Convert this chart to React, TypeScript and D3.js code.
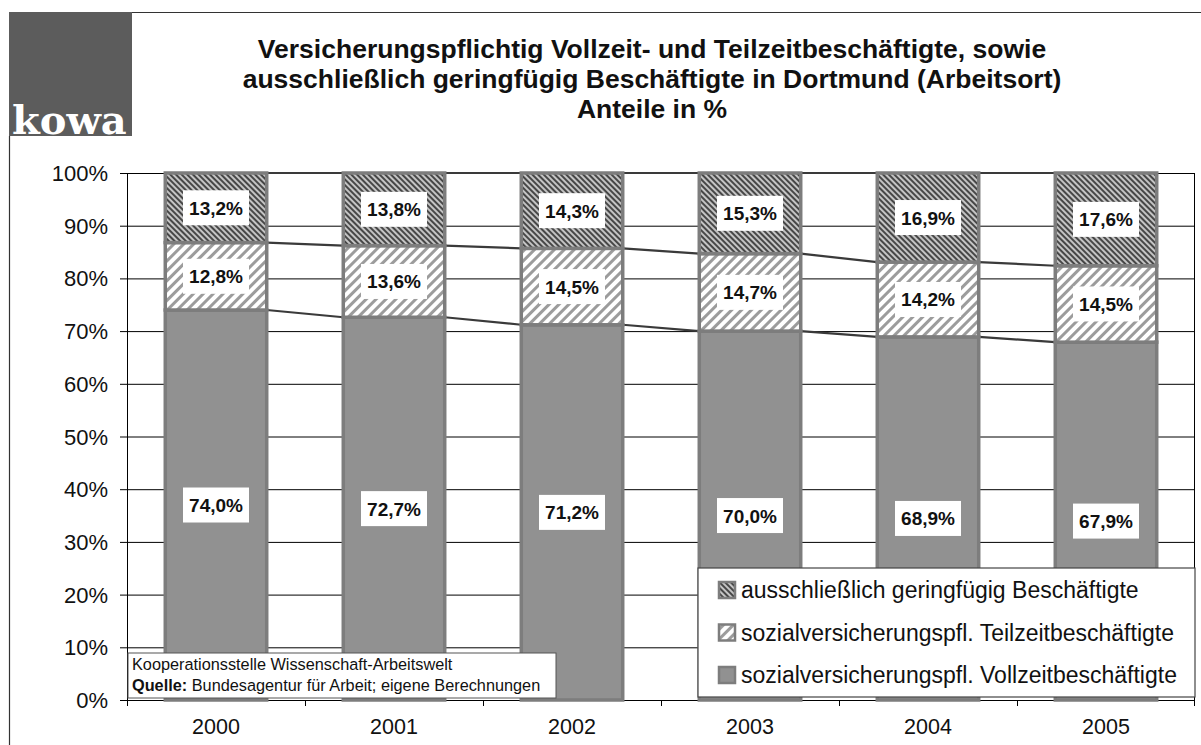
import * as d3 from 'd3';

const years = ['2000', '2001', '2002', '2003', '2004', '2005'];
const vollzeit = [74.0, 72.7, 71.2, 70.0, 68.9, 67.9];
const teilzeit = [12.8, 13.6, 14.5, 14.7, 14.2, 14.5];
const geringfuegig = [13.2, 13.8, 14.3, 15.3, 16.9, 17.6];
const yTicks = [0, 10, 20, 30, 40, 50, 60, 70, 80, 90, 100];
const seriesNames = [
  'ausschließlich geringfügig Beschäftigte',
  'sozialversicherungspfl. Teilzeitbeschäftigte',
  'sozialversicherungspfl. Vollzeitbeschäftigte',
];
const titleLines = [
  'Versicherungspflichtig Vollzeit- und Teilzeitbeschäftigte, sowie',
  'ausschließlich geringfügig Beschäftigte in Dortmund (Arbeitsort)',
  'Anteile in %',
];

const W = 1201;
const H = 745;
const plot = { left: 127, right: 1195, top: 173, bottom: 700 };
const font = '"Liberation Sans", Arial, sans-serif';
const fmt = (v: number) => v.toFixed(1).replace('.', ',') + '%';

export default function App() {
  const x = d3.scaleBand().domain(years).range([plot.left, plot.right]).paddingInner(0.43).paddingOuter(0.215);
  const band = d3.scaleBand().domain(years).range([plot.left, plot.right]);
  const y = d3.scaleLinear().domain([0, 100]).range([plot.bottom, plot.top]);
  const bw = x.bandwidth();

  // stack as 100% shares
  const rows = years.map((yr, i) => {
    const tot = vollzeit[i] + teilzeit[i] + geringfuegig[i];
    return { year: yr, v: (vollzeit[i] / tot) * 100, t: (teilzeit[i] / tot) * 100, g: (geringfuegig[i] / tot) * 100 };
  });
  const stack = d3.stack<any>().keys(['v', 't', 'g'])(rows);
  const labels = [vollzeit, teilzeit, geringfuegig];
  const fills = ['#919191', 'url(#hatchLight)', 'url(#hatchDark)'];

  return (
    <div style={{ position: 'absolute', left: 0, top: 0 }}>
      <svg width={W} height={H} style={{ display: 'block', background: '#fff' }}>
        <defs>
          <pattern id="hatchDark" patternUnits="userSpaceOnUse" width="4" height="4" patternTransform="rotate(-45)">
            <rect width="4" height="4" fill="#c4c4c4" />
            <rect width="2" height="4" fill="#474747" />
          </pattern>
          <pattern id="hatchLight" patternUnits="userSpaceOnUse" width="7" height="7" patternTransform="rotate(45)">
            <rect width="7" height="7" fill="#ffffff" />
            <rect width="3" height="7" fill="#9c9c9c" />
          </pattern>
        </defs>

        {/* logo and frame */}
        <rect x={9} y={12} width={123} height={124} fill="#5c5c5c" />
        <text x={12} y={134} fill="#fff" fontFamily='"DejaVu Serif", "Liberation Serif", serif' fontWeight="bold" fontSize={40}>
          kowa
        </text>
        <line x1={132} x2={W} y1={12.5} y2={12.5} stroke="#333" strokeWidth={1.2} />
        <line x1={9.5} x2={9.5} y1={136} y2={H} stroke="#333" strokeWidth={1.2} />

        {/* title */}
        {titleLines.map((t, i) => (
          <text key={t} x={652} y={58 + i * 30} textAnchor="middle" fontFamily={font} fontWeight="bold" fontSize={26.5} fill="#111">
            {t}
          </text>
        ))}

        {/* gridlines */}
        {yTicks.map((t) => (
          <g key={t}>
            <line x1={plot.left} x2={plot.right} y1={y(t) + 0.5} y2={y(t) + 0.5} stroke="#000" strokeWidth={1} />
            <line x1={120} x2={plot.left} y1={y(t) + 0.5} y2={y(t) + 0.5} stroke="#000" strokeWidth={1} />
            <text x={108} y={y(t) + 8} textAnchor="end" fontFamily={font} fontSize={22} fill="#111">
              {t}%
            </text>
          </g>
        ))}
        <line x1={plot.left + 0.5} x2={plot.left + 0.5} y1={plot.top} y2={plot.bottom + 6} stroke="#000" />
        <line x1={plot.right - 0.5} x2={plot.right - 0.5} y1={plot.top} y2={plot.bottom + 6} stroke="#000" />

        {/* x ticks and labels */}
        {years.map((yr) => (
          <g key={yr}>
            <line x1={band(yr)! + 0.5} x2={band(yr)! + 0.5} y1={plot.bottom} y2={plot.bottom + 6} stroke="#000" />
            <text x={band(yr)! + band.bandwidth() / 2} y={734} textAnchor="middle" fontFamily={font} fontSize={21.5} fill="#111">
              {yr}
            </text>
          </g>
        ))}

        {/* series lines */}
        {stack.map((s) =>
          s.slice(0, -1).map((d, i) => (
            <line
              key={s.key + i}
              x1={x(years[i])! + bw}
              x2={x(years[i + 1])!}
              y1={y(d[1])}
              y2={y(s[i + 1][1])}
              stroke="#3a3a3a"
              strokeWidth={2.2}
            />
          ))
        )}

        {/* bars */}
        {stack.map((s, si) =>
          s.map((d, i) => (
            <rect
              key={s.key + i}
              x={x(years[i])!}
              y={y(d[1])}
              width={bw}
              height={y(d[0]) - y(d[1])}
              fill={fills[si]}
              stroke="#7d7d7d"
              strokeWidth={3.5}
            />
          ))
        )}

        {/* value labels */}
        {stack.map((s, si) =>
          s.map((d, i) => {
            const cx = x(years[i])! + bw / 2;
            const cy = (y(d[0]) + y(d[1])) / 2;
            return (
              <g key={'l' + s.key + i}>
                <rect x={cx - 33} y={cy - 17.5} width={66} height={35} fill="#fff" />
                <text x={cx} y={cy + 7} textAnchor="middle" fontFamily={font} fontWeight="bold" fontSize={19} fill="#111">
                  {fmt(labels[si][i])}
                </text>
              </g>
            );
          })
        )}

        {/* source box */}
        <rect x={128} y={653} width={428} height={45} fill="#fff" stroke="#555" strokeWidth={1} />
        <text x={132} y={670} fontFamily={font} fontSize={16.3} fill="#111">
          Kooperationsstelle Wissenschaft-Arbeitswelt
        </text>
        <text x={132} y={691} fontFamily={font} fontSize={16.3} fill="#111">
          <tspan fontWeight="bold">Quelle:</tspan> Bundesagentur für Arbeit; eigene Berechnungen
        </text>

        {/* legend */}
        <rect x={698} y={568} width={497} height={129} fill="#fff" stroke="#444" strokeWidth={1.2} />
        {seriesNames.map((n, i) => {
          const ly = 590 + i * 42.5;
          const sw = [fills[2], fills[1], fills[0]][i];
          return (
            <g key={n}>
              <rect x={719} y={ly - 8} width={16} height={16} fill={sw} stroke="#7d7d7d" strokeWidth={2.5} />
              <text x={741} y={ly + 8} fontFamily={font} fontSize={23} fill="#111">
                {n}
              </text>
            </g>
          );
        })}
      </svg>
    </div>
  );
}
